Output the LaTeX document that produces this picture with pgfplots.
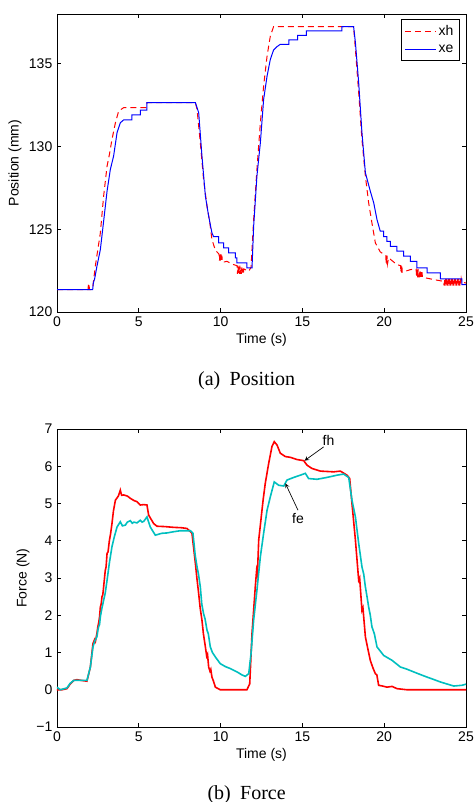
\documentclass[border=0pt]{standalone}
\usepackage{pgfplots}
\pgfplotsset{compat=1.18}
\usepackage{fontspec}
\setmainfont{Liberation Sans}
\newfontfamily\capfont{Liberation Serif}

\definecolor{mred}{rgb}{1,0,0}
\definecolor{mblue}{rgb}{0,0,1}
\definecolor{mcyan}{rgb}{0,0.75,0.75}

\pgfplotsset{
  mlab/.style={
    scale only axis,
    width=306.75pt, height=223.5pt,
    xmin=0, xmax=25,
    xtick={0,5,10,15,20,25},
    tick align=inside,
    major tick length=3pt,
    axis line style={line width=0.6pt},
    every tick/.style={black, line width=0.5pt},
    tick label style={font=\fontsize{10.5}{12}\selectfont},
    label style={font=\fontsize{10.5}{12}\selectfont},
    /pgf/number format/assume math mode=true,
    xlabel={Time (s)},
    xlabel style={at={(axis description cs:0.5,-0.094)}, anchor=center},
    clip=true,
  }
}

\begin{document}
\begin{tikzpicture}
\useasboundingbox (0pt,0pt) rectangle (355.5pt,-601.5pt);

% (a) position
\begin{axis}[mlab,
  at={(42.75pt,-234pt)}, anchor=south west,
  ymin=120, ymax=138,
  ytick={120,125,130,135},
  ylabel={Position (mm)},
  ylabel style={at={(axis description cs:-0.1027,0.5)}, anchor=center, rotate=0},
  legend style={at={(0.985,0.983)}, anchor=north east, draw=black,
    line width=0.6pt, font=\fontsize{10.5}{12}\selectfont,
    inner sep=2.5pt, row sep=1.5pt, legend cell align=left},
  legend image code/.code={\draw[#1] (0pt,0pt) -- (23pt,0pt);},
]
\addplot[mred, line width=0.75pt, dash pattern=on 4.5pt off 3pt] coordinates {
(0,121.35) (1.9,121.35) (1.92,121.7) (1.94,121.35) (1.96,121.7) (1.98,121.35)
(2.1,121.35) (2.2,121.6) (2.34,122.76) (2.5,123.8) (2.65,124.78) (2.85,127.0)
(3.06,128.81) (3.2,129.5) (3.36,130.42) (3.57,131.43) (3.77,132.14) (4.07,132.34)
(5.45,132.34) (5.5,132.64) (8.46,132.64) (8.56,132.24) (8.76,130.22) (8.96,128.0)
(9.17,126.39) (9.33,125.48) (9.47,124.38) (9.68,123.73) (9.9,123.5) (9.93,123.1)
(9.96,123.5) (9.99,123.1) (10.02,123.5) (10.05,123.1) (10.08,123.4) (10.11,123.0)
(10.39,123.06) (10.80,122.86) (11.0,122.8)
(11.03,122.3) (11.06,122.8) (11.09,122.3) (11.12,122.8) (11.15,122.3) (11.18,122.8)
(11.21,122.3) (11.24,122.7) (11.27,122.3) (11.30,122.7) (11.33,122.3) (11.36,122.6)
(11.39,122.3) (11.42,122.6)
(11.72,122.46) (11.86,122.7) (12.02,125.58) (12.22,128.61)
(12.43,131.43) (12.63,133.65) (12.84,135.46) (13.04,136.67) (13.24,137.24)
(18.13,137.24) (18.24,135.87) (18.44,133.25) (18.64,130.42) (18.85,128.21)
(19.05,126.59) (19.25,125.38) (19.46,124.17) (19.76,123.63) (20.1,123.4)
(20.12,122.9) (20.14,123.4) (20.16,122.9) (20.18,123.4) (20.2,122.9) (20.27,123.27)
(20.78,122.86) (21.0,122.8)
(21.02,122.4) (21.04,122.8) (21.06,122.4) (21.08,122.8) (21.1,122.4)
(21.6,122.56) (21.95,122.6) (21.98,122.1) (22.01,122.6) (22.04,122.1)
(22.07,122.6) (22.1,122.1) (22.13,122.5) (22.16,122.1) (22.19,122.45) (22.22,122.1)
(22.25,122.4) (22.28,122.1) (22.31,122.4) (22.34,122.1)
(23.02,121.96) (23.63,121.85)
(23.66,121.6) (23.69,122.0) (23.72,121.6) (23.75,122.0) (23.78,121.6) (23.81,122.0)
(23.84,121.6) (23.87,122.0) (23.90,121.6) (23.93,122.0) (23.96,121.6) (23.99,122.0)
(24.02,121.6) (24.05,122.0) (24.08,121.6) (24.11,122.0) (24.14,121.6) (24.17,122.0)
(24.20,121.6) (24.23,122.0) (24.26,121.6) (24.29,122.0) (24.32,121.6) (24.35,122.0)
(24.38,121.6) (24.41,122.0) (24.44,121.6) (24.47,122.0) (24.50,121.6) (24.53,122.0)
(24.56,121.6) (24.59,122.0) (24.62,121.6) (24.65,122.0) (24.68,121.6) (24.71,122.0)
(24.75,121.8) (25,121.75)
};
\addlegendentry{xh}
\addplot[mblue, line width=0.75pt] coordinates {
(0,121.35) (2.18,121.35) (2.22,121.75) (2.3,122.0) (2.44,122.76) (2.65,123.77)
(2.85,125.48) (3.06,127.30) (3.26,128.61) (3.46,129.42) (3.67,130.83) (3.87,131.43)
(4.07,131.6) (4.58,131.6) (4.58,131.9) (5.09,131.9) (5.09,132.2) (5.50,132.2)
(5.50,132.64) (8.46,132.64) (8.66,132.04) (8.86,129.42) (9.07,127.0) (9.27,125.79)
(9.47,124.78) (9.57,124.55) (9.88,124.55) (9.88,124.17) (10.18,124.17)
(10.18,123.87) (10.49,123.87) (10.49,123.57) (10.90,123.57) (10.90,123.27)
(11.0,123.27) (11.0,122.96) (11.61,122.96) (11.61,122.66) (11.92,122.66)
(12.02,125.18) (12.22,128.21) (12.43,130.22) (12.63,132.84) (12.84,134.25)
(13.04,135.26) (13.24,135.83) (13.45,136.03) (13.65,136.17) (14.18,136.17)
(14.18,136.43) (14.71,136.43) (14.71,136.71) (15.24,136.71) (15.24,136.98)
(17.42,136.98) (17.42,137.24) (18.13,137.24) (18.24,136.27) (18.44,133.85)
(18.64,130.83) (18.85,128.41) (19.15,127.30) (19.36,126.59) (19.56,125.58)
(19.76,124.88) (19.97,124.88) (19.97,124.55) (20.17,124.55) (20.17,124.27)
(20.37,124.27) (20.37,123.97) (20.78,123.97) (20.78,123.67) (21.19,123.67)
(21.19,123.37) (21.6,123.37) (21.6,123.06) (22.0,123.06) (22.0,122.66)
(22.63,122.66) (22.63,122.36) (23.43,122.36) (23.43,122.0) (24.75,122.0)
(24.75,121.65) (25,121.65)
};
\addlegendentry{xe}
\end{axis}

% (b) force
\begin{axis}[mlab,
  at={(42.75pt,-545.25pt)}, anchor=south west,
  ymin=-1, ymax=7,
  ytick={-1,0,1,2,3,4,5,6,7},
  yticklabels={−1,0,1,2,3,4,5,6,7},
  ylabel={Force (N)},
  ylabel style={at={(axis description cs:-0.083,0.5)}, anchor=center, rotate=0},
]
\addplot[mred, line width=1.2pt] coordinates {
(0,0.0) (0.3,0.0) (0.61,0.03) (0.8,0.15) (1.02,0.25) (1.22,0.27) (1.5,0.25)
(1.83,0.23) (2.04,0.61) (2.20,1.24) (2.3,1.35) (2.35,1.3) (2.44,1.51) (2.5,1.7)
(2.55,1.8) (2.6,1.95) (2.65,2.22) (2.7,2.3) (2.75,2.5) (2.8,2.55) (2.85,2.76)
(2.95,3.2) (3.0,3.3) (3.06,3.66) (3.12,3.7) (3.2,4.0) (3.28,4.2) (3.36,4.46)
(3.45,4.8) (3.57,5.09) (3.75,5.2) (3.87,5.36) (3.95,5.22) (4.07,5.23) (4.3,5.2)
(4.48,5.14) (4.7,5.08) (4.89,5.05) (5.09,4.96) (5.3,4.97) (5.50,4.96) (5.60,4.69)
(5.91,4.46) (6.11,4.39) (6.6,4.38) (7.13,4.36) (7.6,4.35) (7.95,4.33) (8.25,4.20)
(8.46,3.39) (8.55,3.0) (8.66,2.58) (8.75,2.2) (8.86,1.87) (8.95,1.5) (9.07,1.15)
(9.15,0.9) (9.2,0.95) (9.27,0.61) (9.35,0.5) (9.4,0.55) (9.47,0.34) (9.55,0.25)
(9.68,0.07) (9.98,0.0) (11.61,0.0) (11.78,0.16) (11.92,1.51) (12.12,2.76)
(12.2,3.2) (12.25,3.1) (12.33,4.02) (12.53,4.82) (12.6,5.1) (12.73,5.54)
(12.94,6.08) (13.14,6.53) (13.28,6.66) (13.45,6.57) (13.65,6.35) (13.96,6.26)
(14.26,6.24) (14.67,6.18) (15.08,6.15) (15.28,6.03) (15.59,5.94) (16.10,5.87)
(16.5,5.86) (16.91,5.85) (17.32,5.87) (17.73,5.76) (17.89,5.67) (18.03,5.00)
(18.24,4.02) (18.44,2.94) (18.5,3.0) (18.64,2.13) (18.7,2.2) (18.85,1.42)
(19.0,1.1) (19.15,0.79) (19.3,0.6) (19.46,0.43) (19.55,0.4) (19.66,0.12)
(19.9,0.1) (20.17,0.07) (20.48,0.09) (20.78,0.03) (21.39,0.0) (25,0.0)
};
\addplot[mcyan, line width=1.2pt] coordinates {
(0,0.07) (0.2,0.0) (0.61,0.05) (0.8,0.17) (1.02,0.25) (1.43,0.25) (1.83,0.25)
(2.04,0.61) (2.20,1.15) (2.3,1.3) (2.44,1.42) (2.5,1.6) (2.55,1.7) (2.6,1.75)
(2.65,1.96) (2.75,2.2) (2.85,2.40) (2.95,2.6) (3.06,2.94) (3.2,3.4) (3.36,3.84)
(3.5,4.1) (3.67,4.37) (3.87,4.51) (4.0,4.4) (4.18,4.42) (4.3,4.5) (4.48,4.54)
(4.6,4.47) (4.7,4.5) (4.89,4.48) (5.09,4.55) (5.2,4.5) (5.3,4.52) (5.50,4.64)
(5.70,4.37) (6.01,4.15) (6.4,4.2) (6.72,4.21) (7.1,4.24) (7.54,4.27) (8.15,4.27)
(8.31,4.20) (8.45,3.6) (8.56,3.30) (8.65,3.1) (8.76,2.76) (8.85,2.3) (8.96,2.04)
(9.05,1.9) (9.17,1.60) (9.25,1.5) (9.37,1.15) (9.5,1.0) (9.68,0.88) (9.98,0.70)
(10.3,0.62) (10.59,0.57) (11.0,0.48) (11.3,0.40) (11.51,0.36) (11.72,0.43)
(11.86,0.97) (12.02,1.87) (12.22,2.67) (12.43,3.57) (12.63,4.20) (12.84,4.82)
(13.04,5.18) (13.28,5.58) (13.55,5.49) (13.86,5.47) (14.06,5.63) (14.47,5.70)
(14.87,5.76) (15.18,5.81) (15.38,5.67) (15.89,5.65) (16.50,5.70) (17.11,5.76)
(17.52,5.79) (17.83,5.70) (18.03,5.09) (18.24,4.64) (18.44,3.93) (18.64,3.30)
(18.75,3.1) (18.85,2.76) (18.95,2.5) (19.05,2.22) (19.15,2.0) (19.25,1.69)
(19.4,1.5) (19.56,1.15) (19.97,0.92) (20.48,0.79) (20.99,0.61) (21.4,0.55)
(21.80,0.48) (22.2,0.41) (22.62,0.34) (23.0,0.28) (23.43,0.21) (23.8,0.16)
(24.25,0.10) (24.75,0.12) (25,0.15)
};
\draw[->, >=stealth, line width=0.5pt] (axis cs:16.3,6.52) -- (axis cs:15.13,6.15);
\node[font=\fontsize{10.5}{12}\selectfont] at (axis cs:16.6,6.70) {fh};
\draw[->, >=stealth, line width=0.5pt] (axis cs:14.73,4.82) -- (axis cs:13.96,5.54);
\node[font=\fontsize{10.5}{12}\selectfont] at (axis cs:14.73,4.60) {fe};
\end{axis}

\node[anchor=base, font=\capfont\fontsize{15}{17}\selectfont] at (185pt,-288.75pt) {(a)\hspace{7pt}Position};
\node[anchor=base, font=\capfont\fontsize{15}{17}\selectfont] at (185pt,-599.25pt) {(b)\hspace{7pt}Force};
\end{tikzpicture}
\end{document}
